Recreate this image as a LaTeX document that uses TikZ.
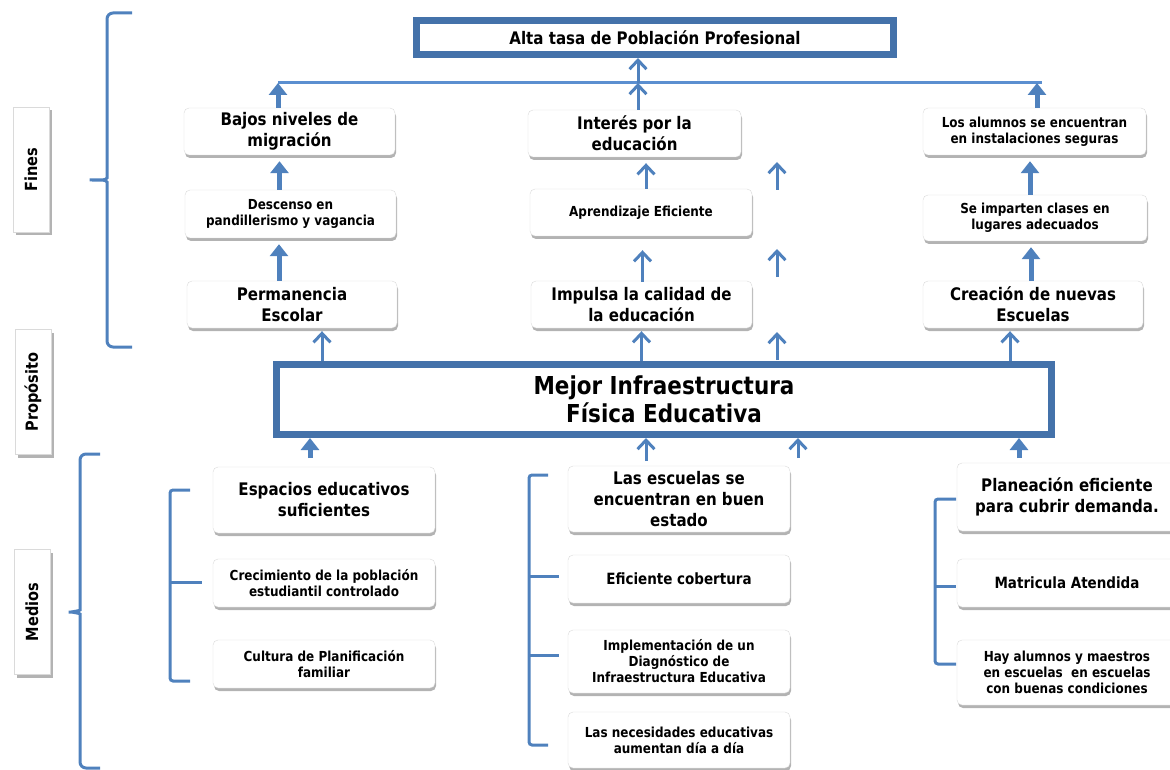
\documentclass[tikz,border=0pt]{standalone}
\usepackage{fontspec}
\setmainfont{DejaVu Sans}[FakeStretch=0.87]
\usetikzlibrary{arrows.meta,shadows,calc}
\definecolor{frameblue}{RGB}{68,114,170}
\definecolor{arrowblue}{RGB}{79,129,189}
\definecolor{barblue}{RGB}{91,143,208}
\definecolor{boxline}{RGB}{218,218,218}

\tikzset{
  box/.style={draw=boxline, fill=white, rounded corners=5pt, align=center, inner sep=2pt,
    drop shadow={shadow xshift=1pt, shadow yshift=-3pt, fill=black!50, opacity=0.6}},
  bigtext/.style={font=\bfseries\fontsize{17.3}{21}\selectfont},
  midtext/.style={font=\bfseries\fontsize{15.5}{17}\selectfont},
  smalltext/.style={font=\bfseries\fontsize{13.8}{16}\selectfont},
  frame/.style={draw=frameblue, line width=7pt, fill=white, align=center},
  fatarrow/.style={arrowblue, line width=5pt, -{Triangle[width=18pt,length=12pt]}},
  thinarrow/.style={arrowblue, line width=3pt, -{Straight Barb[width=17pt,length=9pt]}},
  bracket/.style={arrowblue, line width=3pt, rounded corners=3pt},
  sidelabel/.style={draw=boxline, fill=white, rotate=90, minimum width=125pt, minimum height=36pt,
    font=\bfseries\fontsize{16.7}{18}\selectfont,
    drop shadow={shadow xshift=3pt, shadow yshift=-3pt, fill=black!50, opacity=0.6}}
}

\begin{document}
\begin{tikzpicture}[x=1pt, y=-1pt]
  \clip (0,0) rectangle (1170,770);

  % side labels and braces
  \node[sidelabel] (fines) at (31,170) {Fines};
  \node[sidelabel] (proposito) at (33,392) {Propósito};
  \node[sidelabel] (medios) at (32,612) {Medios};

  \draw[bracket, rounded corners=6pt] (132,13) -- (107,13) -- (107,172) to[out=270,in=0] (86,180)
    to[out=0,in=90] (107,188) -- (107,347) -- (132,347);
  \draw[bracket, rounded corners=6pt] (100,454) -- (80,454) -- (80,604) to[out=270,in=0] (65,612)
    to[out=0,in=90] (80,620) -- (80,768) -- (100,768);

  % fin
  \node[frame, minimum width=477pt, minimum height=34pt, font=\bfseries\fontsize{17.3}{18}\selectfont]
    (alta) at (655,37.5) {Alta tasa de Población Profesional};
  \coordinate (barL) at (278,83);
  \coordinate (barR) at (1042,83);
  \coordinate (barM) at (638,83);
  \coordinate (barN) at (1037,83);
  \draw[barblue, line width=3pt] (barL) -- (barR);

  % fines
  \node[box, bigtext, minimum width=211pt, minimum height=47pt] (bajos) at (289.5,131.5) {Bajos niveles de\\migración};
  \node[box, smalltext, minimum width=211pt, minimum height=48pt] (descenso) at (290.5,214) {Descenso en\\pandillerismo y vagancia};
  \node[box, bigtext, minimum width=210pt, minimum height=47pt] (permanencia) at (292,304.5) {Permanencia\\Escolar};

  \node[box, bigtext, minimum width=213pt, minimum height=47pt] (interes) at (634.5,133.5) {Interés por la\\educación};
  \node[box, smalltext, minimum width=222pt, minimum height=47pt] (aprendizaje) at (641,212.5) {Aprendizaje Eficiente};
  \node[box, bigtext, minimum width=221pt, minimum height=47pt] (impulsa) at (641.5,304.5) {Impulsa la calidad de\\la educación};

  \node[box, smalltext, minimum width=223pt, minimum height=47pt] (alumnos) at (1034.5,131.5) {Los alumnos se encuentran\\en instalaciones seguras};
  \node[box, smalltext, minimum width=224pt, minimum height=46pt] (imparten) at (1035,218) {Se imparten clases en\\lugares adecuados};
  \node[box, bigtext, minimum width=220pt, minimum height=47pt] (creacion) at (1033,304.5) {Creación de nuevas\\Escuelas};

  % proposito
  \node[frame, minimum width=775pt, minimum height=70pt, font=\bfseries\fontsize{24.7}{28}\selectfont]
    (mejor) at (664,399.5) {Mejor Infraestructura\\Física Educativa};

  % medios
  \node[box, bigtext, minimum width=222pt, minimum height=66pt] (espacios) at (324,500) {Espacios educativos\\suficientes};
  \node[box, smalltext, minimum width=222pt, minimum height=48pt] (crecimiento) at (324,583) {Crecimiento de la población\\estudiantil controlado};
  \node[box, smalltext, minimum width=222pt, minimum height=48pt] (cultura) at (324,664) {Cultura de Planificación\\familiar};

  \node[box, bigtext, minimum width=222pt, minimum height=66pt] (escuelas) at (679,499) {Las escuelas se\\encuentran en buen\\estado};
  \node[box, midtext, minimum width=222pt, minimum height=48pt] (cobertura) at (679,579) {Eficiente cobertura};
  \node[box, smalltext, minimum width=222pt, minimum height=63pt] (diagnostico) at (679,661.5) {Implementación de un\\Diagnóstico de\\Infraestructura Educativa};
  \node[box, smalltext, minimum width=222pt, minimum height=56pt] (necesidades) at (679,740) {Las necesidades educativas\\aumentan día a día};

  \node[box, bigtext, minimum width=220pt, minimum height=68pt] (planeacion) at (1067,497) {Planeación eficiente\\para cubrir demanda.};
  \node[box, midtext, minimum width=220pt, minimum height=48pt] (matricula) at (1067,583) {Matricula Atendida};
  \node[box, smalltext, minimum width=220pt, minimum height=65pt] (hay) at (1067,672.5) {Hay alumnos y maestros\\en escuelas~ en escuelas\\con buenas condiciones};

  % brackets of the medios
  \draw[bracket] (190,490) -| (170,681) -- (190,681);
  \draw[bracket] (170,582) -- (202,582);
  \draw[bracket] (548,475) -| (529,745) -- (548,745);
  \draw[bracket] (529,576) -- (559,576);
  \draw[bracket] (529,655) -- (559,655);
  \draw[bracket] (956,499) -| (935,664) -- (956,664);
  \draw[bracket] (935,586) -- (956,586);

  % arrows up to the fin
  \draw[fatarrow] (bajos.north -| barL) -- (barL);
  \draw[fatarrow] (barN |- alumnos.north) -- (barN);
  \draw[thinarrow] (interes.north -| barM) -- (barM);
  \draw[thinarrow] (barM) -- (barM |- alta.south);

  % arrows inside the fines
  \draw[fatarrow, shorten >=6pt] ([xshift=-11pt]descenso.north) -- ([xshift=-11pt]descenso.north |- bajos.south);
  \draw[fatarrow, shorten >=6pt] ([xshift=-13pt]permanencia.north) -- ([xshift=-13pt]permanencia.north |- descenso.south);
  \draw[thinarrow, shorten >=6pt] ([xshift=5pt]aprendizaje.north) -- ([xshift=5pt]aprendizaje.north |- interes.south);
  \draw[thinarrow, shorten >=14pt, shorten <=-1pt] ([xshift=1pt]impulsa.north) -- ([xshift=1pt]impulsa.north |- aprendizaje.south);
  \draw[fatarrow, shorten >=6pt] ([xshift=-5pt]imparten.north) -- ([xshift=-5pt]imparten.north |- alumnos.south);
  \draw[fatarrow, shorten >=6pt] ([xshift=-2pt]creacion.north) -- ([xshift=-2pt]creacion.north |- imparten.south);

  \coordinate (loose1) at (777,190);
  \coordinate (loose2) at (777,277);
  \coordinate (loose3) at (777,360);
  \foreach \p in {loose1,loose2,loose3}
    \draw[thinarrow] (\p) -- ++(0,-28);

  % arrows up from the proposito
  \draw[thinarrow, shorten >=3pt] (mejor.north -| permanencia.north) ++(30,0) coordinate (pa) -- (pa |- permanencia.south);
  \draw[thinarrow, shorten >=3pt] (mejor.north -| impulsa.north) coordinate (pb) -- (pb |- impulsa.south);
  \draw[thinarrow, shorten >=3pt] (mejor.north -| creacion.north) ++(-23,0) coordinate (pc) -- (pc |- creacion.south);

  % arrows up from the medios
  \coordinate (m1) at (310,458);
  \coordinate (m2) at (646,461);
  \coordinate (m3) at (798,458);
  \coordinate (m4) at (1019,458);
  \draw[fatarrow] (m1) -- (m1 |- mejor.south);
  \draw[thinarrow] (m2) -- (m2 |- mejor.south);
  \draw[thinarrow] (m3) -- (m3 |- mejor.south);
  \draw[fatarrow] (m4) -- (m4 |- mejor.south);
\end{tikzpicture}
\end{document}
